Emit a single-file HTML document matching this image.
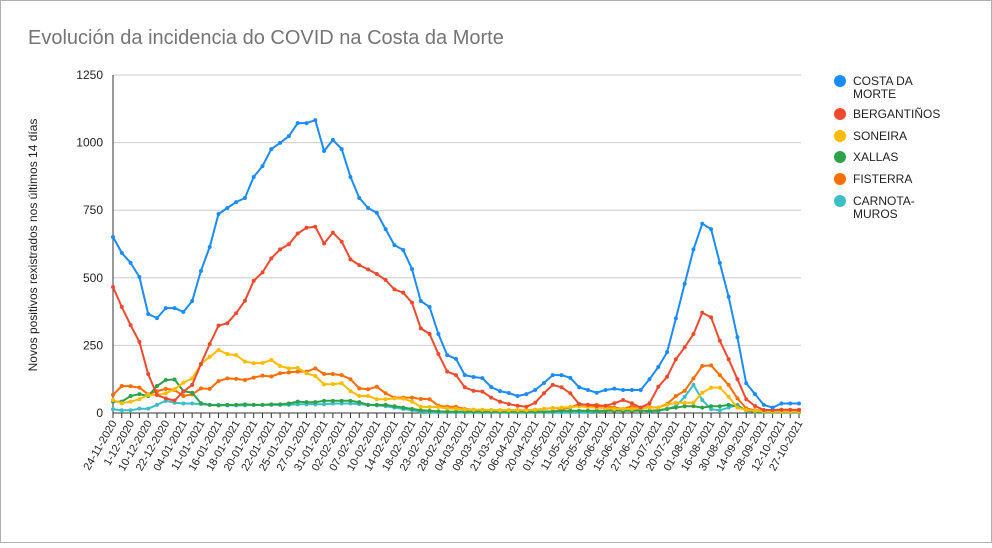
<!DOCTYPE html>
<html><head><meta charset="utf-8"><style>
body{margin:0;background:#fff;}
svg text{font-family:"Liberation Sans",Arial,sans-serif;}
</style></head><body>
<svg width="992" height="543" viewBox="0 0 992 543" xmlns="http://www.w3.org/2000/svg">
<rect x="0.5" y="0.5" width="991" height="542" fill="#fff" stroke="#b0b0b0"/>
<text x="28" y="44" font-size="20" fill="#757575">Evolución da incidencia do COVID na Costa da Morte</text>
<text transform="translate(37,245) rotate(-90)" text-anchor="middle" font-size="12" fill="#222">Novos positivos rexistrados nos últimos 14 días</text>
<g id="grid"></g><g id="xaxis"></g><g id="series"></g>
<g font-size="12" fill="#222">
<circle cx="840" cy="81" r="6" fill="#1a8cff"/>
<text x="853" y="85">COSTA DA</text><text x="853" y="98">MORTE</text>
<circle cx="840" cy="114" r="6" fill="#f04a2e"/>
<text x="853" y="118">BERGANTIÑOS</text>
<circle cx="840" cy="136" r="6" fill="#ffbb00"/>
<text x="853" y="140">SONEIRA</text>
<circle cx="840" cy="157" r="6" fill="#2ea24a"/>
<text x="853" y="161">XALLAS</text>
<circle cx="840" cy="179" r="6" fill="#ff6d00"/>
<text x="853" y="183">FISTERRA</text>
<circle cx="840" cy="201" r="6" fill="#3bbfc6"/>
<text x="853" y="205">CARNOTA-</text><text x="853" y="218">MUROS</text>
</g>
</svg>
<script>
const xLabels=["24-11-2020","1-12-2020","10-12-2020","22-12-2020","04-01-2021","11-01-2021","16-01-2021","18-01-2021","20-01-2021","22-01-2021","25-01-2021","27-01-2021","31-01-2021","02-02-2021","07-02-2021","10-02-2021","14-02-2021","18-02-2021","23-02-2021","28-02-2021","04-03-2021","09-03-2021","21-03-2021","06-04-2021","20-04-2021","01-05-2021","11-05-2021","25-05-2021","05-06-2021","15-06-2021","27-06-2021","11-07-2021","20-07-2021","01-08-2021","16-08-2021","30-08-2021","14-09-2021","28-09-2021","12-10-2021","27-10-2021"];
const yTicks=[0,250,500,750,1000,1250];
const costaDaMorte=[651,592,555,503,366,351,388,388,374,414,525,614,736,758,780,795,873,913,976,999,1024,1072,1072,1083,969,1010,976,873,795,758,740,680,621,603,532,414,392,292,214,200,140,133,129,96,81,74,63,70,85,111,140,140,130,95,85,75,85,90,85,85,85,125,170,225,350,478,605,700,680,555,430,280,110,70,30,20,35,35,35];
const bergantinos=[466,392,325,263,144,67,54,46,79,104,181,255,323,332,369,415,489,520,572,605,624,664,685,689,627,667,634,568,547,531,514,492,457,445,408,313,292,218,153,140,95,82,79,57,42,33,27,23,38,73,104,95,73,33,30,26,27,36,48,36,20,36,97,134,199,243,292,371,354,267,199,125,51,26,11,11,12,12,11];
const soneira=[48,36,42,51,67,67,73,88,112,128,180,208,233,218,214,190,184,185,196,174,165,167,147,137,106,107,110,81,63,63,51,51,54,53,42,23,22,22,17,16,13,12,12,11,10,10,10,10,12,15,18,20,22,25,22,20,18,15,15,15,18,20,20,30,38,38,38,75,94,94,60,20,11,8,6,5,5,5,5];
const xallas=[42,42,63,70,63,100,122,124,81,75,36,30,28,30,30,32,30,30,32,32,35,42,40,40,45,45,45,45,40,30,30,30,25,20,15,10,8,6,5,5,5,5,5,5,5,5,5,5,5,5,6,8,8,8,8,8,8,8,8,8,8,8,10,15,20,25,25,20,25,25,30,25,10,5,4,4,4,4,4];
const fisterra=[67,100,99,94,69,81,89,85,63,69,91,89,118,128,126,122,131,138,135,147,150,153,153,165,144,144,140,125,91,88,97,73,57,57,57,52,51,27,23,23,15,12,10,10,10,10,10,10,12,15,18,15,20,33,30,30,25,20,15,25,20,22,20,33,63,82,128,174,176,140,104,54,17,10,8,10,10,10,12];
const carnota=[14,10,10,16,16,30,45,38,35,35,33,30,30,28,28,28,30,30,30,30,30,32,32,32,32,35,35,35,33,30,28,25,20,15,10,5,3,3,3,3,3,3,3,3,3,3,3,3,3,3,3,3,3,3,3,5,8,10,15,20,10,5,8,15,25,60,104,48,14,10,20,30,8,4,3,3,3,3,3];
const NS="http://www.w3.org/2000/svg";
const X0=113,X1=799,Y0=413,Y1=75,VMAX=1250,N=costaDaMorte.length;
function xs(i){return X0+i*(X1-X0)/(N-1);}
function ys(v){return Y0-v*(Y0-Y1)/VMAX;}
function mk(tag,attrs,parent){const e=document.createElementNS(NS,tag);for(const k in attrs)e.setAttribute(k,attrs[k]);parent.appendChild(e);return e;}
const grid=document.getElementById('grid');
yTicks.forEach(t=>{
  const l=mk('line',{x1:X0,x2:X1+2,y1:ys(t),y2:ys(t),stroke:t===0?'#333':'#cccccc','stroke-width':1},grid);
  
  
  const tx=mk('text',{x:103,y:ys(t)+4,'text-anchor':'end','font-size':12,fill:'#222'},grid);
  tx.textContent=t;
  
  
});
const ax=mk('line',{x1:X0,x2:X0,y1:Y1,y2:Y0,stroke:'#333','stroke-width':1},grid);


const xa=document.getElementById('xaxis');
for(let i=0;i<N;i++){
  const tk=mk('line',{x1:xs(i),x2:xs(i),y1:Y0,y2:Y0+5,stroke:'#333','stroke-width':1},xa);
  
  
}
xLabels.forEach((lab,j)=>{
  const x=xs(j*2);
  const t=mk('text',{transform:`translate(${x+4},${Y0+10}) rotate(-60)`,'text-anchor':'end','font-size':11,fill:'#222'},xa);
  t.textContent=lab;
  
  
});
const sg=document.getElementById('series');
const series=[["carnota-muros",carnota,"#3bbfc6"],["fisterra",fisterra,"#ff6d00"],["xallas",xallas,"#2ea24a"],["soneira",soneira,"#ffbb00"],["bergantinos",bergantinos,"#f04a2e"],["costa-da-morte",costaDaMorte,"#1a8cff"]];
series.forEach(([name,data,col])=>{
  const g=mk('g',{},sg);
  
  
  const pts=data.map((v,i)=>xs(i).toFixed(1)+','+ys(v).toFixed(1)).join(' ');
  const pl=mk('polyline',{points:pts,fill:'none',stroke:col,'stroke-width':2,'stroke-linejoin':'round'},g);
  
  
  data.forEach((v,i)=>{
    const c=mk('circle',{cx:xs(i),cy:ys(v),r:2,fill:col},g);
    
    
  });
});
</script>
</body></html>
